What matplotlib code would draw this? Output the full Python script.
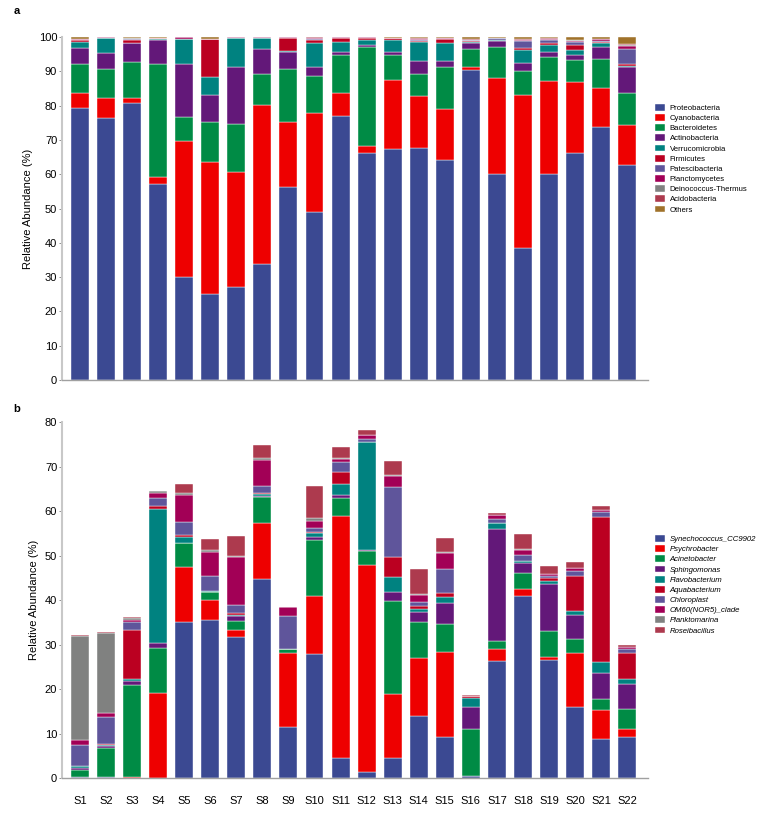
import numpy as np
import matplotlib
matplotlib.use("Agg")
import matplotlib.pyplot as plt
from matplotlib.patches import Patch

plt.rcParams['font.family'] = ['Liberation Sans', 'DejaVu Sans']

samples = ['S%d' % i for i in range(1, 23)]

# PANEL A - phylum level (%)
phyla = ['Proteobacteria', 'Cyanobacteria', 'Bacteroidetes', 'Actinobacteria',
         'Verrucomicrobia', 'Firmicutes', 'Patescibacteria', 'Planctomycetes',
         'Deinococcus-Thermus', 'Acidobacteria', 'Others']
proteobacteria = [79.2, 76.3, 80.7, 57.3, 30.1, 25.0, 27.0, 33.8, 56.4, 49.1, 77.1,
                  66.1, 67.3, 67.8, 64.1, 90.4, 60.1, 38.6, 60.1, 66.3, 73.7, 62.7]
cyanobacteria = [4.6, 6.1, 1.7, 2.0, 39.6, 38.7, 33.7, 46.5, 18.9, 28.9, 6.5,
                 2.1, 20.2, 15.1, 14.8, 1.0, 28.0, 44.5, 27.2, 20.5, 11.6, 11.7]
bacteroidetes = [8.3, 8.3, 10.3, 32.8, 6.9, 11.6, 14.1, 9.1, 15.4, 10.6, 11.1,
                 29.0, 7.3, 6.5, 12.3, 5.1, 9.1, 6.9, 7.0, 6.5, 8.3, 9.2]
actinobacteria = [4.7, 4.6, 5.5, 7.2, 15.5, 7.7, 16.6, 7.1, 5.1, 2.6, 1.1,
                  0.6, 1.0, 3.7, 1.9, 1.8, 1.7, 2.6, 1.5, 1.5, 3.4, 7.6]
verrucomicrobia = [1.7, 4.5, 0.2, 0.1, 7.3, 5.4, 8.4, 3.3, 0.1, 7.1, 2.7,
                   1.3, 3.3, 5.4, 5.1, 0.3, 0.2, 3.6, 1.9, 1.6, 1.2, 0.4]
firmicutes = [0.6, 0.05, 0.9, 0.3, 0.1, 11.0, 0.1, 0.1, 4.0, 1.0, 1.4,
              0.8, 0.7, 0.3, 1.4, 0.3, 0.1, 0.5, 0.6, 1.3, 0.4, 0.7]
patescibacteria = [0.1, 0.05, 0.1, 0.0, 0.1, 0.0, 0.0, 0.0, 0.0, 0.2, 0.0,
                   0.0, 0.0, 0.5, 0.0, 0.2, 0.5, 2.1, 0.8, 0.9, 0.3, 4.3]
planctomycetes = [0.2, 0.05, 0.1, 0.1, 0.4, 0.1, 0.1, 0.1, 0.1, 0.2, 0.1,
                  0.1, 0.1, 0.2, 0.2, 0.2, 0.2, 0.4, 0.4, 0.4, 0.5, 0.8]
deinococcus = [0.1, 0.0, 0.2, 0.0, 0.0, 0.0, 0.0, 0.0, 0.0, 0.2, 0.0,
               0.0, 0.0, 0.1, 0.0, 0.0, 0.0, 0.1, 0.1, 0.1, 0.1, 0.2]
acidobacteria = [0.1, 0.05, 0.1, 0.0, 0.0, 0.0, 0.0, 0.0, 0.0, 0.1, 0.0,
                 0.0, 0.0, 0.1, 0.0, 0.1, 0.0, 0.2, 0.1, 0.2, 0.1, 0.3]
others = [0.4, 0.05, 0.2, 0.2, 0.0, 0.5, 0.0, 0.0, 0.0, 0.0, 0.0,
          0.0, 0.1, 0.3, 0.2, 0.6, 0.1, 0.5, 0.3, 0.7, 0.4, 2.1]
data_a = [proteobacteria, cyanobacteria, bacteroidetes, actinobacteria, verrucomicrobia,
          firmicutes, patescibacteria, planctomycetes, deinococcus, acidobacteria, others]

# PANEL B - genus level (%)
genera = ['Synechococcus_CC9902', 'Psychrobacter', 'Acinetobacter', 'Sphingomonas',
          'Flavobacterium', 'Aquabacterium', 'Chloroplast', 'OM60(NOR5)_clade',
          'Planktomarina', 'Roseibacillus']
synechococcus = [0.3, 0.2, 0.0, 0.0, 35.0, 35.6, 31.7, 44.8, 11.5, 27.9, 4.5,
                 1.4, 4.5, 13.9, 9.3, 0.5, 26.3, 40.8, 26.6, 16.0, 8.8, 9.2]
psychrobacter = [0.0, 0.0, 0.2, 19.2, 12.4, 4.3, 1.5, 12.4, 16.7, 12.9, 54.4,
                 46.4, 14.4, 13.0, 19.0, 0.0, 2.8, 1.6, 0.6, 12.0, 6.4, 1.9]
acinetobacter = [1.6, 6.6, 20.8, 10.0, 5.3, 1.9, 2.0, 5.9, 0.7, 12.6, 4.1,
                 3.2, 20.9, 8.2, 6.3, 10.6, 1.7, 3.6, 5.8, 3.3, 2.6, 4.3]
sphingomonas = [0.4, 0.3, 0.7, 1.1, 0.2, 0.1, 1.1, 0.3, 0.0, 0.8, 0.6,
                0.3, 2.0, 2.2, 4.8, 4.9, 25.2, 2.4, 10.7, 5.4, 5.9, 5.7]
flavobacterium = [0.4, 0.3, 0.5, 30.2, 1.3, 0.1, 0.4, 0.4, 0.0, 0.8, 2.5,
                  24.1, 3.3, 0.7, 1.2, 2.0, 1.4, 0.3, 0.6, 0.8, 2.3, 1.1]
aquabacterium = [0.0, 0.2, 11.0, 0.7, 0.3, 0.1, 0.3, 0.2, 0.0, 0.2, 2.7,
                 0.0, 4.5, 0.7, 0.9, 0.4, 0.0, 0.0, 0.7, 8.0, 32.6, 6.0]
chloroplast = [4.7, 6.0, 1.9, 1.8, 3.1, 3.3, 1.9, 1.7, 7.6, 1.0, 2.2,
               0.8, 15.9, 0.8, 5.4, 0.0, 0.9, 1.4, 0.5, 1.1, 1.2, 0.9]
om60 = [1.1, 0.9, 0.4, 1.1, 6.0, 5.4, 10.7, 5.7, 1.9, 1.6, 0.7,
        0.9, 2.4, 1.7, 3.6, 0.1, 0.8, 1.1, 0.3, 0.5, 0.5, 0.3]
planktomarina = [23.3, 18.1, 0.4, 0.5, 0.4, 0.4, 0.3, 0.5, 0.0, 0.7, 0.1,
                 0.0, 0.3, 0.2, 0.3, 0.0, 0.0, 0.2, 0.0, 0.0, 0.0, 0.0]
roseibacillus = [0.3, 0.3, 0.2, 0.0, 2.1, 2.4, 4.4, 2.9, 0.0, 7.2, 2.6,
                 1.2, 3.1, 5.5, 3.1, 0.1, 0.4, 3.4, 1.9, 1.4, 0.9, 0.4]
data_b = [synechococcus, psychrobacter, acinetobacter, sphingomonas, flavobacterium,
          aquabacterium, chloroplast, om60, planktomarina, roseibacillus]

colors = ['#3B4992', '#EE0000', '#008B45', '#631879', '#008280',
          '#BB0021', '#5F559B', '#A20056', '#808180', '#AD3A4E', '#A0722A']

fig = plt.figure(figsize=(7.63, 8.26), dpi=100)
ax_a = fig.add_axes([0.0813, 0.540, 0.768, 0.415])
ax_b = fig.add_axes([0.0813, 0.0581, 0.768, 0.431])

x = np.arange(len(samples))
width = 0.69


def stack(ax, data, names):
    bottom = np.zeros(len(samples))
    handles = []
    for i, (vals, name) in enumerate(zip(data, names)):
        vals = np.array(vals)
        ax.bar(x, vals, width, bottom=bottom, color=colors[i],
               edgecolor='white', linewidth=0.3)
        bottom += vals
        handles.append(Patch(facecolor=colors[i], edgecolor='white', linewidth=0.3, label=name))
    return handles


def style(ax, top, step):
    ax.set_xlim(-0.69, 21.8)
    ax.set_ylim(0, top)
    ax.set_yticks(np.arange(0, top + 1, step))
    for s in ['top', 'right']:
        ax.spines[s].set_visible(False)
    ax.spines['left'].set_color('#c8c8c8')
    ax.spines['left'].set_linewidth(1.5)
    ax.spines['bottom'].set_color('#a0a0a0')
    ax.spines['bottom'].set_linewidth(1.0)
    ax.tick_params(axis='y', length=2.5, width=0.6, color='#808080', labelsize=8, pad=1)
    ax.tick_params(axis='x', length=0)
    ax.set_ylabel('Relative Abundance (%)', fontsize=8, labelpad=4)


h_a = stack(ax_a, data_a, phyla)
style(ax_a, 100, 10)
ax_a.set_xticks([])

h_b = stack(ax_b, data_b, genera)
style(ax_b, 80, 10)
ax_b.set_xticks(x)
ax_b.set_xticklabels(samples, fontsize=8)
ax_b.tick_params(axis='x', pad=13)

# legends
fig.legend(handles=h_a, loc='upper left', bbox_to_anchor=(0.853, 0.879), frameon=False,
           fontsize=5.6, handlelength=1.3, handleheight=1.0, labelspacing=0.26,
           handletextpad=0.6, borderpad=0)
fig.legend(handles=h_b, loc='upper left', bbox_to_anchor=(0.853, 0.357), frameon=False,
           prop={'size': 5.6, 'style': 'italic'}, handlelength=1.3, handleheight=1.0,
           labelspacing=0.26, handletextpad=0.6, borderpad=0)

fig.text(0.018, 0.993, 'a', fontsize=8, fontweight='bold', va='top')
fig.text(0.018, 0.511, 'b', fontsize=8, fontweight='bold', va='top')

plt.savefig('out.png', dpi=100)
